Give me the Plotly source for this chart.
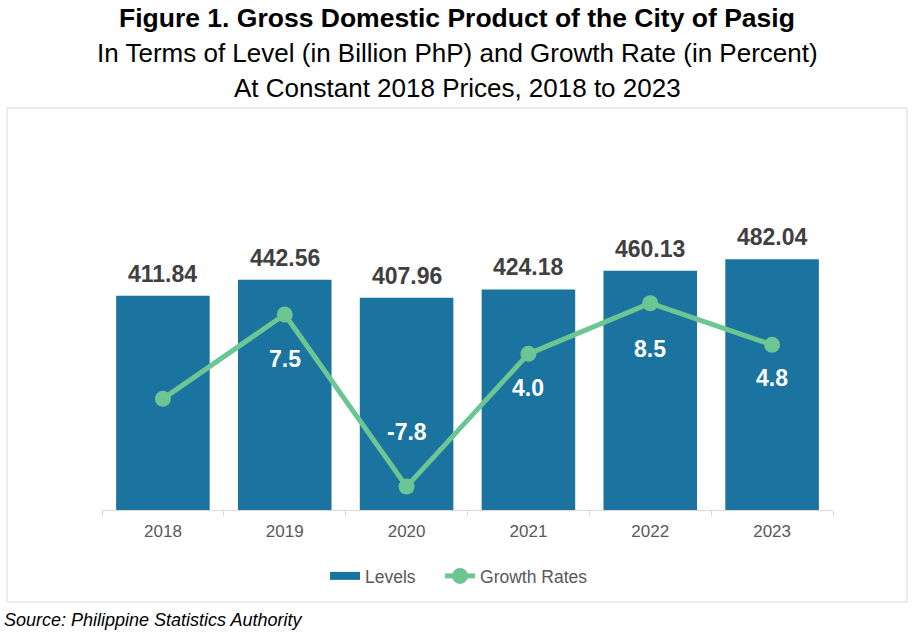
import plotly.graph_objects as go

years = ["2018", "2019", "2020", "2021", "2022", "2023"]
levels = [411.84, 442.56, 407.96, 424.18, 460.13, 482.04]
growth = [0.0, 7.5, -7.8, 4.0, 8.5, 4.8]
growth_labels = ["", "7.5", "-7.8", "4.0", "8.5", "4.8"]

BAR = "#1b74a0"
LINE = "#6cc693"
FONT = "Liberation Sans, Arial, sans-serif"

label_shift = {"2019": -45, "2020": 55, "2021": -34, "2022": -46, "2023": -33}

W, H = 914, 637
L, R, T, B = 102, 81, 140, 127
pw, ph = W - L - R, H - T - B

def px_x(p):
    return (p - L) / pw

def px_y(p):
    return (H - B - p) / ph

xs = [int(y) for y in years]
NB = "\u00a0"

fig = go.Figure()
fig.add_trace(go.Bar(x=xs, y=levels, marker=dict(color=BAR, line=dict(width=0)),
                     width=0.768, name="Levels", showlegend=False))
fig.add_trace(go.Scatter(x=[xs[0]], y=[None], mode="lines", name="Levels" + NB * 4,
                         line=dict(color=BAR, width=8), hoverinfo="skip"))
fig.add_trace(go.Scatter(x=xs, y=growth, yaxis="y2", mode="lines+markers",
                         name="Growth Rates",
                         line=dict(color=LINE, width=5),
                         marker=dict(color=LINE, size=16)))

annotations = []
for x, v in zip(xs, levels):
    annotations.append(dict(x=x, y=v, xref="x", yref="y", text=f"<b>{v:.2f}</b>",
                            showarrow=False, yanchor="middle", yshift=22,
                            font=dict(family=FONT, size=23, color="#404040")))
for yr, x, v, t in zip(years, xs, growth, growth_labels):
    if not t:
        continue
    annotations.append(dict(x=x, y=v, xref="x", yref="y2", text=f"<b>{t}</b>",
                            showarrow=False, yanchor="middle",
                            yshift=label_shift.get(yr, -40),
                            font=dict(family=FONT, size=23, color="white")))

titles = [("<b>Figure 1. Gross Domestic Product of the City of Pasig</b>", 18, 26.5),
          ("In Terms of Level (in Billion PhP) and Growth Rate (in Percent)", 53, 26),
          ("At Constant 2018 Prices, 2018 to 2023", 88, 26)]
for txt, yp, fs in titles:
    annotations.append(dict(x=px_x(457), y=px_y(yp), xref="paper", yref="paper",
                            text=txt, showarrow=False, xanchor="center", yanchor="middle",
                            font=dict(family=FONT, size=fs, color="black")))
annotations.append(dict(x=px_x(2), y=px_y(620), xref="paper", yref="paper",
                        text="<i>Source: Philippine Statistics Authority</i>",
                        showarrow=False, xanchor="left", yanchor="middle",
                        font=dict(family=FONT, size=18, color="black")))

bounds = [xs[0] - 0.5] + [x + 0.5 for x in xs]

fig.update_layout(
    width=W, height=H,
    margin=dict(l=L, r=R, t=T, b=B, autoexpand=False),
    paper_bgcolor="white", plot_bgcolor="white",
    font=dict(family=FONT),
    xaxis=dict(type="linear", range=[xs[0] - 0.5, xs[-1] + 0.5], autorange=False,
               tickmode="array", tickvals=xs, ticktext=years,
               showline=True, linecolor="#d9d9d9", linewidth=1,
               ticks="", ticklabelstandoff=6,
               minor=dict(tickmode="array", tickvals=bounds, ticks="outside",
                          ticklen=5, tickcolor="#d9d9d9", showgrid=False),
               tickfont=dict(family=FONT, size=17, color="#595959"),
               showgrid=False, zeroline=False),
    yaxis=dict(range=[0, 711.5], autorange=False, visible=False, showgrid=False,
               zeroline=False),
    yaxis2=dict(range=[-9.88, 23.01], autorange=False, overlaying="y", side="right",
                visible=False, showgrid=False, zeroline=False),
    legend=dict(orientation="h", x=px_x(459), xanchor="center", y=px_y(576),
                yanchor="middle", font=dict(family=FONT, size=17.5, color="#595959")),
    annotations=annotations,
    shapes=[dict(type="rect", xref="paper", yref="paper",
                 x0=px_x(7), x1=px_x(907), y0=px_y(602), y1=px_y(108),
                 line=dict(color="#d9d9d9", width=1), fillcolor="rgba(0,0,0,0)",
                 layer="below")],
    showlegend=True,
)

fig.write_html("out.html")
